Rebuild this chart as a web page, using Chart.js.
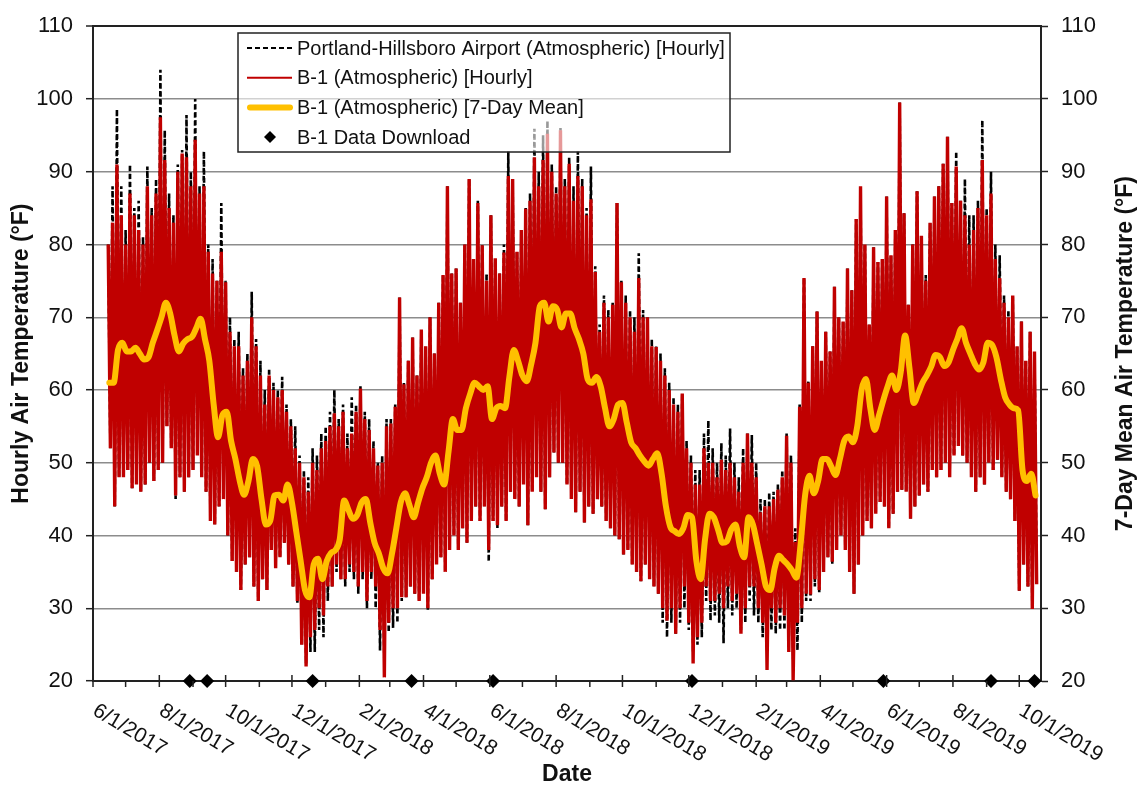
<!DOCTYPE html>
<html>
<head>
<meta charset="utf-8">
<title>B-1 Air Temperature</title>
<script src="https://cdn.jsdelivr.net/npm/chart.js@4.4.1/dist/chart.umd.min.js"></script>
<style>
  html, body { margin: 0; padding: 0; background: #fff; }
  canvas { display: block; }
</style>
</head>
<body>
<canvas id="myChart" width="1140" height="788"></canvas>
<script>
"use strict";

// hourly records are kept as one high / low pair per 4-day block, from 6/15/2017
const blockStart = '2017-06-15';
const blockDays = 4;

const b1High = [
  80, 83, 91, 84, 80, 87, 84, 82, 80, 88,
  84, 87, 97.5, 91.6, 85, 83, 90, 92.5, 92, 88,
  94.4, 87, 88, 79, 76, 75, 79, 74.8, 68, 66,
  66, 62, 64, 70, 66, 62, 58, 62, 60, 59,
  60, 57, 55, 52, 50, 48, 46, 50, 49, 52,
  53, 55, 56.8, 55, 57, 52, 54, 57, 60.2, 56,
  54.5, 52, 49.6, 50, 55, 55.4, 57.7, 72.7, 60.8, 64,
  67.2, 62, 68.3, 66, 70, 65, 72, 75.8, 88, 76,
  76.7, 72, 80, 89, 78, 85.7, 79.9, 75, 84, 78.1,
  76, 78.9, 89.4, 89, 79, 82, 84.9, 86, 92, 88,
  91.6, 95.2, 90, 87, 95.7, 88, 91.1, 86, 89.4, 88,
  84, 86.2, 76.2, 68, 72, 70, 71.7, 85.7, 74.8, 72,
  70, 68, 75.4, 70, 70, 66, 65.9, 64, 62, 60,
  58, 57, 59.5, 52, 50, 47, 47, 52, 50, 50,
  48, 50.4, 49, 50, 48, 46, 50, 54, 50, 48,
  43.2, 44, 44, 45, 46.3, 48, 53.7, 50, 39.1, 57.7,
  75.4, 61, 66, 70.8, 64, 68, 65.3, 74.2, 70, 69.4,
  76.7, 73.7, 83.5, 88, 80, 69, 79.6, 77.6, 78, 86.6,
  78.5, 82, 99.5, 84.3, 71.7, 80, 87.3, 81.2, 75, 83,
  86.6, 88, 91.1, 94.8, 85.7, 90.7, 86, 84, 80, 82,
  85, 91.6, 84, 87, 78, 75.4, 72, 70, 73, 66,
  69.4, 64, 68, 65.3
];

const b1Low = [
  52, 44, 48, 48, 49, 46.5, 47, 46, 47, 50,
  47.5, 49, 50, 55, 52, 45.5, 48, 46, 48, 49,
  51, 48, 46, 42, 41.5, 44, 45, 40, 36.5, 35,
  32.5, 36, 37, 33, 31, 34, 32.5, 38, 35.5, 37,
  39, 36, 33, 31, 25, 22, 26, 27, 30, 29,
  33, 33, 36, 34, 34, 36, 35, 33, 35, 31,
  35, 33, 27, 20.5, 28, 30, 30, 31.5, 31.5, 33,
  32, 31, 32, 30, 34, 36, 37, 35, 38, 40,
  38, 41, 39, 42, 44, 42, 44, 38, 42, 41.4,
  44, 42, 46, 45, 44, 47, 41.4, 46, 48, 46,
  43.6, 48, 51.4, 50, 50, 47, 45, 43.2, 46, 41.8,
  44, 43, 45, 44, 42, 41, 40, 39.5, 37.4, 38,
  36, 35, 33.7, 36, 34, 33, 32, 30, 28.3, 30,
  26.5, 30, 33, 28, 22.4, 26, 28, 33, 31, 31,
  32, 30, 33, 31, 32, 26.5, 30, 33, 33, 30,
  28, 21.5, 30, 28, 30, 29, 24, 20.1, 28, 30,
  32, 31.9, 34, 32.5, 35, 37, 36.4, 38, 40, 38,
  35, 32, 36, 40, 42, 41, 43, 44.6, 44, 41,
  43, 46, 46.3, 46, 42.3, 44, 45.5, 47, 46, 49,
  48, 49, 50, 48, 51, 52.3, 51, 50, 48, 46,
  48, 47, 50, 49, 50.4, 48, 46, 45, 42, 32.4,
  36, 33, 29.9, 33.3
];

const airportHigh = [
  80, 88, 98.6, 88, 82, 91, 85, 86, 81, 90.7,
  85, 89, 104, 95.7, 87, 84, 91, 93, 97.8, 90,
  100, 88, 92.8, 80, 78, 75, 85.7, 75, 70, 67,
  68, 63, 65, 73.5, 67, 64, 60, 63, 61, 60,
  61.8, 58, 56, 55, 51, 49, 48, 52, 51, 54,
  55, 57, 60, 56, 58, 54, 59, 58, 60.5, 57,
  56, 53, 50, 51, 56, 56, 58, 72.7, 61, 64,
  67.2, 62, 68.3, 66, 70, 65, 72, 75.8, 88, 76,
  76.7, 72, 80, 89, 78, 86, 80, 76, 84, 78,
  76, 80, 92.8, 89, 79, 82, 85, 87, 95.9, 90,
  95, 97, 91, 88, 96, 89, 92, 88, 92.8, 89,
  85, 90.7, 77, 69, 73, 71, 72, 85.7, 75, 73,
  71, 70, 78.8, 71, 70, 67, 66, 65, 63, 61,
  59, 58, 59.5, 53, 51, 49, 49, 54, 55.8, 52,
  50, 52.7, 51, 54.7, 50, 48, 52, 54, 53.8, 50,
  45, 45, 45.9, 46, 47, 49, 54, 51, 41, 58,
  75.4, 61.3, 66, 70.8, 64, 68, 65.3, 74.2, 70, 69.4,
  76.7, 73.7, 83.5, 88, 80, 69, 79.6, 77.6, 78, 86.6,
  78.5, 82, 99.5, 84.3, 71.7, 80, 87.3, 81.2, 75.8, 83,
  86.6, 88, 91.1, 94.8, 85.7, 92.8, 86, 89, 84, 84,
  86, 97.1, 85, 90, 80, 78.5, 73, 71, 73, 66,
  69.4, 64, 68, 65.3
];

const airportLow = [
  52, 44, 48, 48, 49, 46.5, 47, 46, 47, 50,
  47.5, 49, 50, 55, 52, 45, 48, 46, 48, 49,
  51, 48, 46, 42, 41.5, 44, 45, 40, 36.5, 35,
  32.5, 36, 37, 33, 31, 34, 32.5, 38, 35.5, 37,
  39, 36, 33, 30.6, 25, 22.4, 24, 24, 27, 26,
  31, 33, 35, 34, 33, 35, 34, 32, 34, 30,
  34, 30, 24.2, 22, 26.7, 27.3, 28, 31, 31.5, 33,
  32, 31, 32, 29.6, 34, 36, 37, 35, 38, 40,
  38, 41, 39, 42, 44, 42, 44, 36.4, 42, 41,
  44, 42, 46, 45, 44, 47, 41.4, 46, 48, 46,
  43.6, 48, 51.4, 50, 50, 47, 45, 43.2, 46, 41.8,
  44, 43, 45, 44, 42, 41, 40, 39.5, 37.4, 38,
  36, 35, 33.7, 36, 34, 33, 32, 28, 26, 28,
  26.5, 28, 30, 27, 24, 25, 26, 31, 28.3, 29,
  28, 25.2, 30, 29, 30, 27, 28, 31, 29, 28,
  26, 24, 27, 26.5, 27, 27, 26, 23, 24.2, 28,
  31, 31, 33, 32, 35, 37, 36, 38, 40, 38,
  35, 32, 36, 40, 42, 41, 43, 44.6, 44, 41,
  43, 46, 46.3, 46, 42.3, 44, 45.5, 47, 46, 49,
  48, 49, 50, 48, 51, 52.3, 51, 50, 48, 46,
  48, 47, 50, 49, 50.4, 48, 46, 45, 42, 32.4,
  36, 33, 29.9, 33.3
];

// 7-day mean, one reading per 4-day block
const b1Mean7 = [
  61, 61, 65.5, 66.5, 65.3, 65.3, 65.8, 65, 64.2, 64.5,
  66.5, 68.2, 70, 72, 70.5, 67.5, 65.3, 66.4, 67, 67.3,
  68.5, 69.8, 67, 64, 58, 53.5, 56.5, 57, 53, 50.5,
  47.5, 45.6, 47.5, 50.5, 49.5, 45, 41.5, 42, 45.5, 45.6,
  44.8, 47, 44.5, 40.5, 36.5, 32.5, 31.5, 36, 36.8, 34,
  36.5, 37.6, 38, 39.5, 44.8, 43.5, 42.3, 42.8, 44.5, 45,
  41.8, 39, 37.5, 35.5, 34.8, 37.5, 41, 44.5, 45.8, 44.2,
  42.5, 44.5, 46.5, 48, 50, 51, 48.5, 47, 51.5, 56,
  54.5, 54.5, 57.5, 59.5, 61, 60.5, 60, 60.5, 56, 57.5,
  57.8, 57.5, 61.8, 65.5, 64, 62, 61.2, 63.5, 66.5, 71.5,
  72, 69.4, 71.5, 71, 68.6, 70.5, 70.5, 68.5, 67, 65,
  61.5, 61, 61.8, 60.5, 57.5, 55, 56, 58, 58.2, 55.5,
  52.8, 52, 51, 50.2, 49.6, 50.5, 51.3, 48.5, 44, 41.2,
  40.6, 40.2, 41, 42.8, 42.5, 36.5, 34, 39.5, 43, 42.5,
  40.8, 39, 39.2, 40.8, 41.5, 38.5, 37, 42.5, 41.5, 38.8,
  36, 33, 32.5, 35.5, 37.2, 36.6, 36, 35.2, 34.2, 39,
  45.5, 48.2, 45.8, 47.5, 50.5, 50.5, 49.5, 48.3, 50.5, 53,
  53.6, 52.8, 55, 60, 61.5, 57.5, 54.5, 56.5, 58.6, 60.5,
  62, 60, 62.5, 67.5, 63, 58.2, 59.5, 61, 62, 63.2,
  64.8, 64.5, 63.3, 63.8, 65.5, 67, 68.5, 66.5, 65, 63.6,
  62.8, 63.8, 66.5, 66.2, 64.5, 61.5, 59, 58, 57.5, 57.2,
  49, 47.5, 48.5, 45.5
];

const downloadDates = [
  '2017-08-29', '2017-09-14', '2017-12-20', '2018-03-21', '2018-06-04',
  '2018-12-04', '2019-05-29', '2019-09-05', '2019-10-15'
];

const labelledTicks = [
  '2017-06-01', '2017-08-01', '2017-10-01', '2017-12-01', '2018-02-01',
  '2018-04-01', '2018-06-01', '2018-08-01', '2018-10-01', '2018-12-01',
  '2019-02-01', '2019-04-01', '2019-06-01', '2019-08-01', '2019-10-01'
];
const tickLabels = [
  '6/1/2017', '8/1/2017', '10/1/2017', '12/1/2017', '2/1/2018',
  '4/1/2018', '6/1/2018', '8/1/2018', '10/1/2018', '12/1/2018',
  '2/1/2019', '4/1/2019', '6/1/2019', '8/1/2019', '10/1/2019'
];
const minorTicks = [
  '2017-07-01', '2017-09-01', '2017-11-01', '2018-01-01', '2018-03-01',
  '2018-05-01', '2018-07-01', '2018-09-01', '2018-11-01', '2019-01-01',
  '2019-03-01', '2019-05-01', '2019-07-01', '2019-09-01'
];
const xMin = '2017-06-01';
const xMax = '2019-10-21';

const DAY = 86400000;
const toTime = s => {
  const [y, m, d] = s.split('-').map(Number);
  return Date.UTC(y, m - 1, d);
};
const t0 = toTime(blockStart);

// each block gives its high, then its low half a block later
const hourlyPoints = (hi, lo) => {
  const pts = [];
  hi.forEach((h, i) => {
    const t = t0 + i * blockDays * DAY;
    pts.push({ x: t, y: h });
    pts.push({ x: t + blockDays / 2 * DAY, y: lo[i] });
  });
  return pts;
};

const meanPoints = b1Mean7.map((v, i) => ({ x: t0 + (i * blockDays + 1) * DAY, y: v }));
const downloadPoints = downloadDates.map(d => ({ x: toTime(d), y: 20 }));

Chart.defaults.font.family = "'Liberation Sans', Arial, sans-serif";
Chart.defaults.color = '#111';

const AXIS = '#222';
const TICK_FONT = { size: 22 };
const TITLE_FONT = { size: 23, weight: 'bold' };

// legend box sitting inside the plot, semi transparent like the original
const insideLegend = {
  id: 'insideLegend',
  afterDatasetsDraw(chart) {
    const ctx = chart.ctx;
    const box = { x: 238, y: 33, w: 492, h: 119 };
    ctx.save();
    ctx.fillStyle = 'rgba(255,255,255,0.6)';
    ctx.fillRect(box.x, box.y, box.w, box.h);
    ctx.strokeStyle = AXIS;
    ctx.lineWidth = 1.5;
    ctx.strokeRect(box.x, box.y, box.w, box.h);

    const order = [3, 2, 1, 0];
    ctx.font = "20px 'Liberation Sans', Arial, sans-serif";
    ctx.textBaseline = 'middle';
    ctx.textAlign = 'left';
    order.forEach((di, row) => {
      const ds = chart.data.datasets[di];
      const y = 48 + row * 29.7;
      ctx.save();
      if (ds.showLine === false) {
        ctx.fillStyle = '#000';
        ctx.beginPath();
        ctx.moveTo(270, y - 6);
        ctx.lineTo(276, y);
        ctx.lineTo(270, y + 6);
        ctx.lineTo(264, y);
        ctx.closePath();
        ctx.fill();
      } else {
        const thick = ds.borderWidth > 4;
        ctx.strokeStyle = ds.borderColor;
        ctx.lineWidth = thick ? ds.borderWidth : 2;
        ctx.lineCap = thick ? 'round' : 'butt';
        ctx.setLineDash(ds.borderDash || []);
        ctx.beginPath();
        ctx.moveTo(thick ? 250 : 247, y);
        ctx.lineTo(thick ? 290 : 292, y);
        ctx.stroke();
      }
      ctx.restore();
      ctx.fillStyle = '#111';
      ctx.fillText(ds.label, 297, y + 1);
    });
    ctx.restore();
  }
};

// month tick marks, slanted date labels and the right-hand title
const axisDecor = {
  id: 'axisDecor',
  afterDraw(chart) {
    const { ctx, chartArea, scales } = chart;
    const xs = scales.x;
    const b = chartArea.bottom;
    ctx.save();
    ctx.strokeStyle = AXIS;
    ctx.lineWidth = 1.5;
    minorTicks.forEach(d => {
      const px = xs.getPixelForValue(toTime(d));
      ctx.beginPath();
      ctx.moveTo(px, b);
      ctx.lineTo(px, b + 6);
      ctx.stroke();
    });
    ctx.font = "21px 'Liberation Sans', Arial, sans-serif";
    ctx.fillStyle = '#111';
    labelledTicks.forEach((d, i) => {
      const px = xs.getPixelForValue(toTime(d));
      ctx.beginPath();
      ctx.moveTo(px, b - 6);
      ctx.lineTo(px, b + 6);
      ctx.stroke();
      ctx.save();
      ctx.translate(px + 7, b + 19);
      ctx.rotate(31 * Math.PI / 180);
      ctx.textAlign = 'left';
      ctx.textBaseline = 'top';
      ctx.fillText(tickLabels[i], 0, 0);
      ctx.restore();
    });

    ctx.save();
    ctx.translate(1126, (chartArea.top + chartArea.bottom) / 2);
    ctx.rotate(-Math.PI / 2);
    ctx.font = "bold 23px 'Liberation Sans', Arial, sans-serif";
    ctx.textAlign = 'center';
    ctx.textBaseline = 'middle';
    ctx.fillText('7-Day Mean Air Temperature (°F)', 0, 0);
    ctx.restore();
    ctx.restore();
  }
};

const canvas = document.getElementById('myChart');

new Chart(canvas, {
  type: 'line',
  data: {
    datasets: [
      {
        label: 'B-1 Data Download',
        data: downloadPoints,
        showLine: false,
        pointStyle: 'rectRot',
        pointRadius: 7,
        pointBackgroundColor: '#000',
        pointBorderWidth: 0,
        borderColor: '#000',
        clip: false
      },
      {
        label: 'B-1 (Atmospheric) [7-Day Mean]',
        data: meanPoints,
        borderColor: '#FFC000',
        borderWidth: 6,
        borderCapStyle: 'round',
        borderJoinStyle: 'round',
        cubicInterpolationMode: 'monotone',
        pointRadius: 0
      },
      {
        label: 'B-1 (Atmospheric) [Hourly]',
        data: hourlyPoints(b1High, b1Low),
        borderColor: '#C00000',
        borderWidth: 3.4,
        tension: 0,
        pointRadius: 0
      },
      {
        label: 'Portland-Hillsboro Airport (Atmospheric) [Hourly]',
        data: hourlyPoints(airportHigh, airportLow),
        borderColor: '#000',
        borderWidth: 2.6,
        borderDash: [5, 3],
        tension: 0,
        pointRadius: 0
      }
    ]
  },
  options: {
    responsive: false,
    animation: false,
    devicePixelRatio: 1,
    layout: { padding: { top: 18, left: 0, right: 0, bottom: 0 } },
    plugins: {
      legend: { display: false },
      tooltip: { enabled: false }
    },
    scales: {
      x: {
        type: 'linear',
        min: toTime(xMin),
        max: toTime(xMax),
        ticks: { display: false },
        grid: { display: false },
        border: { color: AXIS, width: 2 },
        title: { display: true, text: 'Date', font: TITLE_FONT, color: '#111', padding: { top: 0, bottom: 0 } },
        afterFit(scale) { scale.height = 107; }
      },
      y: {
        position: 'left',
        min: 20,
        max: 110,
        ticks: { stepSize: 10, font: TICK_FONT, color: '#111', padding: 13 },
        grid: {
          color: c => (c.tick && c.tick.value === 110 ? AXIS : '#8c8c8c'),
          lineWidth: c => (c.tick && c.tick.value === 110 ? 2 : 1.4),
          tickColor: AXIS,
          tickLength: 7,
          tickWidth: 1.5
        },
        border: { color: AXIS, width: 2 },
        title: { display: true, text: 'Hourly Air Temperature (°F)', font: TITLE_FONT, color: '#111', padding: { top: 8, bottom: 0 } },
        afterFit(scale) { scale.width = 93; }
      },
      y2: {
        position: 'right',
        min: 20,
        max: 110,
        ticks: { stepSize: 10, font: TICK_FONT, color: '#111', padding: 13 },
        grid: { drawOnChartArea: false, tickColor: AXIS, tickLength: 7, tickWidth: 1.5 },
        border: { color: AXIS, width: 2 },
        afterFit(scale) { scale.width = 99; }
      }
    }
  },
  plugins: [insideLegend, axisDecor]
});
</script>
</body>
</html>
